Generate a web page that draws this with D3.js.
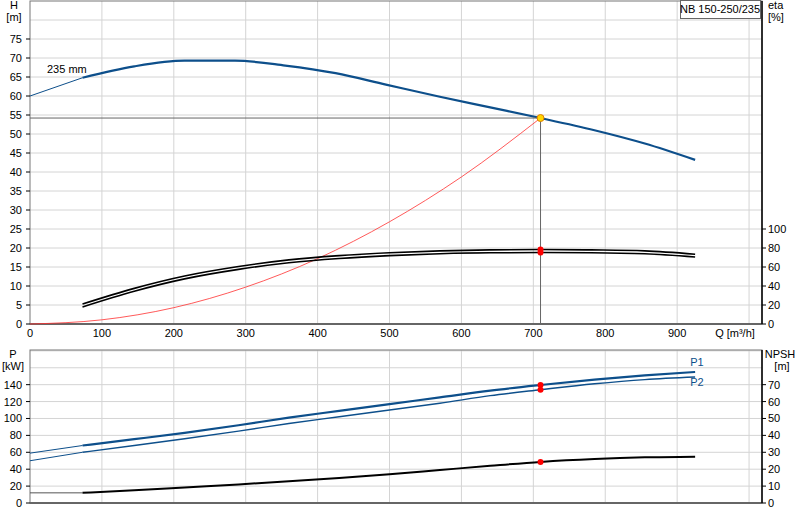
<!DOCTYPE html>
<html><head><meta charset="utf-8">
<script src="https://cdn.jsdelivr.net/npm/d3@7"></script>
<style>body{margin:0;background:#fff}text{font-family:"Liberation Sans",Arial,sans-serif;font-size:11px;fill:#000}</style>
</head><body><svg id="c" width="800" height="520"></svg>
<script>
// data
const qHead = [0, 73, 145, 215, 285, 355, 425, 495, 570, 640, 710, 785, 855, 925]
const head = [60, 64.8, 67.8, 69.3, 69.3, 68, 66, 63, 59.8, 57, 54.2, 51, 47.5, 43.2]
const qEta = [73, 145, 215, 290, 360, 430, 500, 570, 640, 710, 780, 855, 925]
const eta1 = [21, 37.5, 50.5, 60.5, 67.5, 72, 75, 77, 78, 78.5, 78, 77, 73.5]
const eta2 = [18, 34.5, 47.5, 57.5, 64.5, 69, 72, 74, 75, 75.2, 75, 74, 70.5]
const qSys = [0, 100, 200, 300, 400, 500, 600, 710]
const hSys = [0, 1.1, 4.3, 9.7, 17.2, 26.9, 38.7, 54.2]
const qP = [0, 73, 145, 215, 290, 360, 430, 500, 570, 640, 710, 785, 855, 925]
const p1 = [59, 68, 75.5, 83, 92, 101, 109, 117, 125, 133, 139.6, 146, 151, 155]
const p2 = [50, 60, 68, 76, 85, 94, 102, 110, 118, 127, 134, 141, 146, 149]
const qN = [0, 73, 145, 215, 290, 360, 430, 500, 570, 640, 710, 785, 855, 925]
const npsh = [6, 6, 7.5, 9.2, 11, 12.8, 14.8, 17, 19.5, 22, 24.3, 26, 27, 27.4]
const duty = {q: 710, h: 54.2, eta1: 78.5, eta2: 75.2, p1: 139.6, p2: 134, npsh: 24.3}
const qTicks = [0, 100, 200, 300, 400, 500, 600, 700, 800, 900]
const hTicks = [0, 5, 10, 15, 20, 25, 30, 35, 40, 45, 50, 55, 60, 65, 70, 75]
const etaTicks = [0, 20, 40, 60, 80, 100]
const pTicks = [0, 20, 40, 60, 80, 100, 120, 140]
const nTicks = [0, 10, 20, 30, 40, 50, 60, 70]

const svg = d3.select('#c')
const blue = '#0d4f8b', grid = '#d4d4d4'
const x = d3.scaleLinear().domain([0, 1018]).range([30, 762])
const yH = d3.scaleLinear().domain([0, 85]).range([324, 1])
const yE = d3.scaleLinear().domain([0, 340]).range([324, 1])
const yP = d3.scaleLinear().domain([0, 181]).range([503, 350])
const yN = d3.scaleLinear().domain([0, 90.5]).range([503, 350])

function panel(y, top, bottom, gticks) {
  const g = svg.append('g')
  const xs = d3.range(100, 1001, 100)
  g.selectAll('.vx').data(xs).join('line').attr('x1', d => x(d)).attr('x2', d => x(d))
    .attr('y1', top).attr('y2', bottom).attr('stroke', grid)
  g.selectAll('.hy').data(gticks).join('line').attr('x1', 30).attr('x2', 762)
    .attr('y1', d => y(d)).attr('y2', d => y(d)).attr('stroke', grid)
  g.append('rect').attr('x', 30).attr('y', top).attr('width', 732).attr('height', bottom - top)
    .attr('fill', 'none').attr('stroke', '#777')
  g.append('line').attr('x1', 30).attr('x2', 762).attr('y1', bottom).attr('y2', bottom).attr('stroke', '#666').attr('stroke-width', 2)
  g.append('line').attr('x1', 762).attr('x2', 762).attr('y1', top).attr('y2', bottom).attr('stroke', '#000').attr('stroke-width', 1.5)
}
panel(yH, 1, 324, d3.range(5, 85, 5))
panel(yP, 350, 503, d3.range(20, 181, 20))

const lf = (xs, ys, sy) => d3.line().x((d, i) => x(xs[i])).y(d => sy(d)).curve(d3.curveMonotoneX)(ys)
function curve(xs, ys, sy, color, w) {
  svg.append('path').attr('d', lf(xs, ys, sy)).attr('fill', 'none').attr('stroke', color).attr('stroke-width', w)
}
// thin extension to Q=0, then thick
curve(qHead.slice(0, 2), head.slice(0, 2), yH, blue, 1)
curve(qHead.slice(1), head.slice(1), yH, blue, 2.2)
curve(qSys, hSys, yH, '#ff3030', 0.8)
curve(qEta, eta1, yE, '#000', 1.6)
curve(qEta, eta2, yE, '#000', 1.6)
curve(qP.slice(0, 2), p1.slice(0, 2), yP, blue, 1)
curve(qP.slice(1), p1.slice(1), yP, blue, 2.2)
curve(qP.slice(0, 2), p2.slice(0, 2), yP, blue, 1)
curve(qP.slice(1), p2.slice(1), yP, blue, 1.4)
curve(qN.slice(0, 2), npsh.slice(0, 2), yN, '#555', 1)
curve(qN.slice(1), npsh.slice(1), yN, '#000', 2)

// duty point
svg.append('line').attr('x1', 30).attr('x2', x(duty.q)).attr('y1', yH(duty.h)).attr('y2', yH(duty.h)).attr('stroke', '#666')
svg.append('line').attr('x1', x(duty.q)).attr('x2', x(duty.q)).attr('y1', yH(duty.h)).attr('y2', 324).attr('stroke', '#666')
svg.append('circle').attr('cx', x(duty.q)).attr('cy', yH(duty.h)).attr('r', 3.5).attr('fill', '#ffd700').attr('stroke', '#e08000')
const red = [[yE, duty.eta1], [yE, duty.eta2], [yP, duty.p1], [yP, duty.p2], [yN, duty.npsh]]
svg.selectAll('.rd').data(red).join('circle').attr('cx', x(duty.q)).attr('cy', d => d[0](d[1])).attr('r', 3).attr('fill', '#f00')

// axes
function ticks(sc, vals, side) {
  const g = svg.append('g')
  const xa = side === 'l' ? 30 : 762
  g.selectAll('line').data(vals).join('line').attr('x1', xa).attr('x2', side === 'l' ? xa - 4 : xa + 4)
    .attr('y1', d => sc(d)).attr('y2', d => sc(d)).attr('stroke', '#000')
  g.selectAll('text').data(vals).join('text').attr('x', side === 'l' ? 22 : 768).attr('y', d => sc(d) + 4)
    .attr('text-anchor', side === 'l' ? 'end' : 'start').text(d => d)
}
ticks(yH, hTicks, 'l'); ticks(yE, etaTicks, 'r'); ticks(yP, pTicks, 'l'); ticks(yN, nTicks, 'r')
svg.append('g').selectAll('text').data(qTicks).join('text').attr('x', d => x(d)).attr('y', 337)
  .attr('text-anchor', 'middle').text(d => d)
const lab = (t, xx, yy, a, c) => svg.append('text').attr('x', xx).attr('y', yy).attr('text-anchor', a || 'start').style('fill', c || '#000').text(t)
lab('Q [m³/h]', 735, 337, 'middle')
lab('H', 14, 9, 'middle'); lab('[m]', 14, 21, 'middle')
lab('eta', 768, 9); lab('[%]', 768, 21)
lab('P', 13, 358, 'middle'); lab('[kW]', 13, 370, 'middle')
lab('NPSH', 780, 358, 'middle'); lab('[m]', 782, 370, 'middle')
lab('235 mm', 47, 73)
lab('P1', x(925) - 5, 366, 'start', blue); lab('P2', x(925) - 5, 386, 'start', blue)
svg.append('rect').attr('x', 680.5).attr('y', 0.5).attr('width', 80).attr('height', 18).attr('fill', '#fff').attr('stroke', '#666')
lab('NB 150-250/235', 720, 13, 'middle')
</script></body></html>
